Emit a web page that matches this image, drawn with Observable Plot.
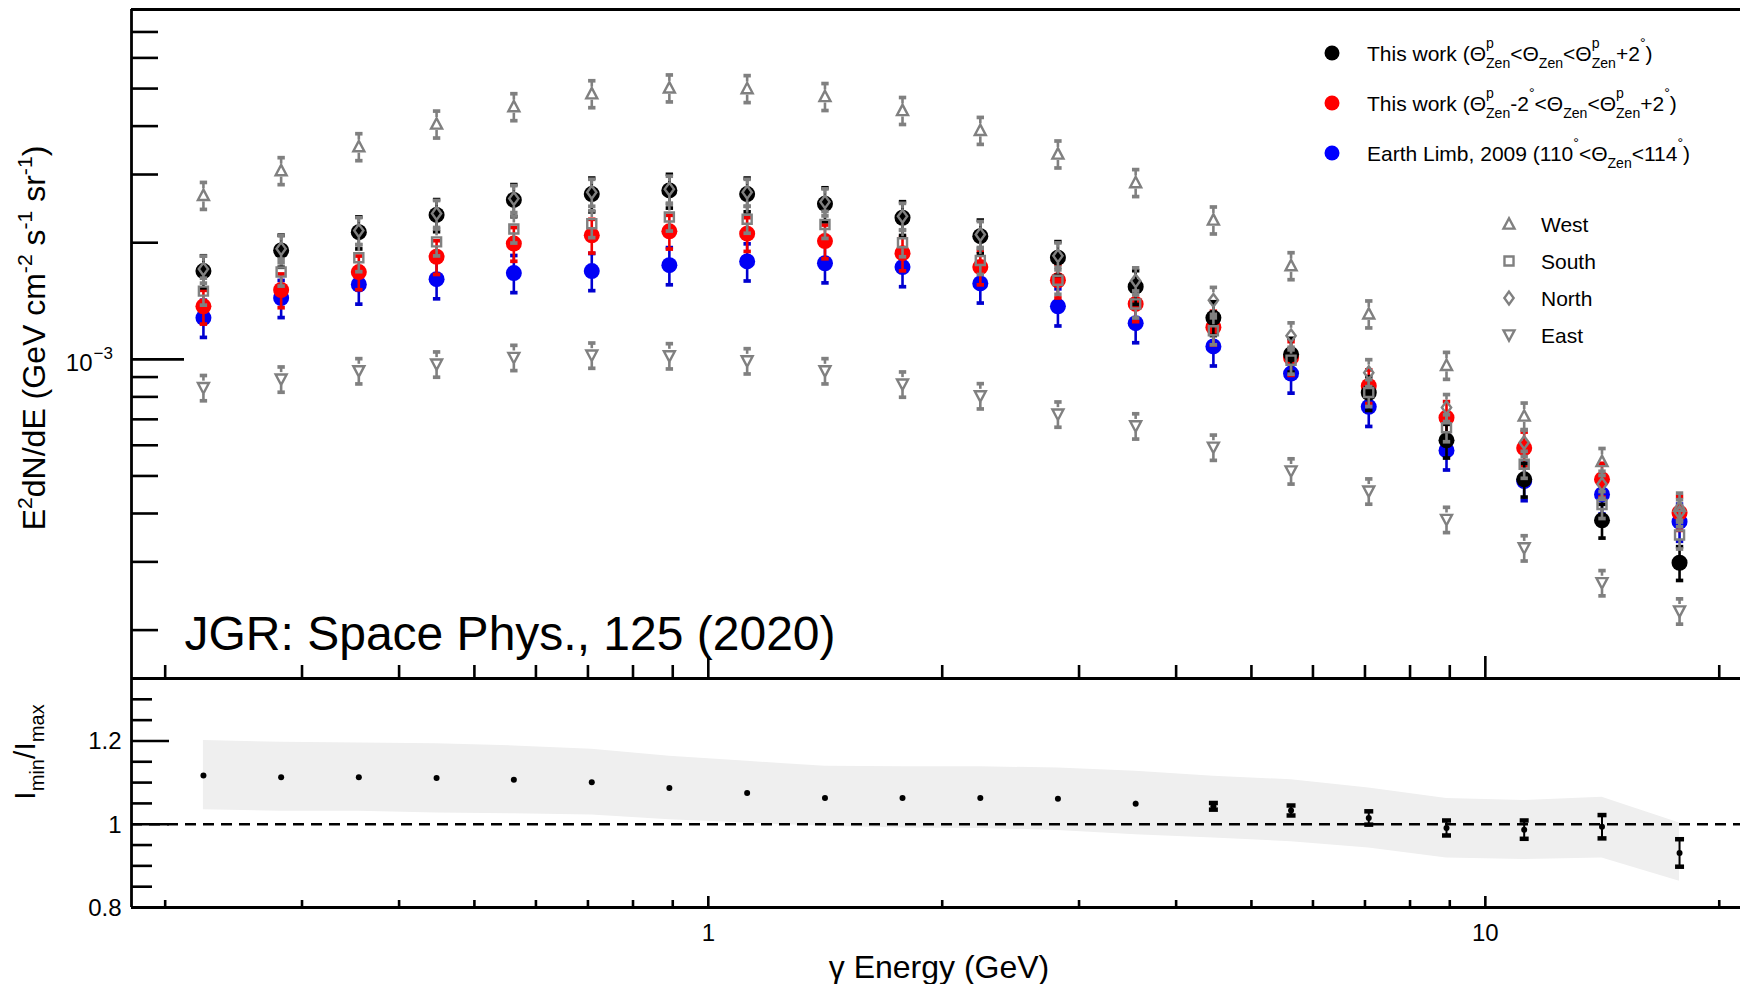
<!DOCTYPE html>
<html><head><meta charset="utf-8">
<script src="https://cdn.jsdelivr.net/npm/d3@7"></script>
<script src="https://cdn.jsdelivr.net/npm/@observablehq/plot@0.6"></script>
<style>
html,body{margin:0;padding:0;background:#fff;overflow:hidden;}
#wrap{position:relative;width:1740px;height:984px;}
#wrap svg{position:absolute;left:0;}
</style></head><body><div id="wrap"></div>
<script>
// ---------------- data ----------------
const energy = [0.224, 0.282, 0.355, 0.447, 0.562, 0.708, 0.891, 1.122, 1.413, 1.778, 2.239, 2.818, 3.548, 4.467, 5.623, 7.079, 8.913, 11.22, 14.13, 17.78];

const thisWorkBlack = [1.69e-3, 1.91e-3, 2.13e-3, 2.36e-3, 2.58e-3, 2.67e-3, 2.73e-3, 2.67e-3, 2.52e-3, 2.32e-3, 2.08e-3, 1.83e-3, 1.54e-3, 1.28e-3, 1.03e-3, 8.2e-4, 6.18e-4, 4.9e-4, 3.84e-4, 2.985e-4];
const thisWorkRed   = [1.37e-3, 1.51e-3, 1.68e-3, 1.84e-3, 1.99e-3, 2.09e-3, 2.14e-3, 2.11e-3, 2.02e-3, 1.88e-3, 1.73e-3, 1.60e-3, 1.39e-3, 1.21e-3, 1.01e-3, 8.54e-4, 7.07e-4, 5.9e-4, 4.9e-4, 4.02e-4];
const earthLimbBlue = [1.28e-3, 1.44e-3, 1.56e-3, 1.61e-3, 1.67e-3, 1.69e-3, 1.75e-3, 1.79e-3, 1.77e-3, 1.73e-3, 1.57e-3, 1.37e-3, 1.24e-3, 1.08e-3, 9.19e-4, 7.54e-4, 5.82e-4, 4.85e-4, 4.48e-4, 3.81e-4];
const west  = [2.65e-3, 3.07e-3, 3.54e-3, 4.05e-3, 4.49e-3, 4.85e-3, 5.02e-3, 5.00e-3, 4.77e-3, 4.39e-3, 3.90e-3, 3.39e-3, 2.86e-3, 2.29e-3, 1.745e-3, 1.31e-3, 9.65e-4, 7.14e-4, 5.45e-4, 4.18e-4];
const south = [1.50e-3, 1.68e-3, 1.83e-3, 2.01e-3, 2.17e-3, 2.24e-3, 2.33e-3, 2.30e-3, 2.23e-3, 2.00e-3, 1.80e-3, 1.60e-3, 1.39e-3, 1.185e-3, 9.95e-4, 8.21e-4, 6.66e-4, 5.36e-4, 4.22e-4, 3.52e-4];
const north = [1.71e-3, 1.93e-3, 2.15e-3, 2.38e-3, 2.60e-3, 2.70e-3, 2.75e-3, 2.70e-3, 2.55e-3, 2.34e-3, 2.10e-3, 1.85e-3, 1.595e-3, 1.42e-3, 1.15e-3, 9.24e-4, 7.51e-4, 6.1e-4, 4.76e-4, 4.02e-4];
const east  = [8.45e-4, 8.89e-4, 9.34e-4, 9.72e-4, 1.011e-3, 1.025e-3, 1.021e-3, 9.91e-4, 9.34e-4, 8.63e-4, 8.05e-4, 7.22e-4, 6.73e-4, 5.93e-4, 5.15e-4, 4.57e-4, 3.86e-4, 3.26e-4, 2.65e-4, 2.24e-4];

// relative errors
const errBlack = [0.095, 0.095, 0.095, 0.095, 0.095, 0.10, 0.10, 0.10, 0.10, 0.10, 0.10, 0.10, 0.10, 0.10, 0.10, 0.10, 0.10, 0.10, 0.10, 0.10];
const errRed   = [0.10, 0.10, 0.10, 0.10, 0.10, 0.10, 0.10, 0.10, 0.10, 0.10, 0.10, 0.10, 0.10, 0.10, 0.10, 0.10, 0.10, 0.10, 0.10, 0.10];
const errBlue  = [0.11, 0.11, 0.11, 0.11, 0.11, 0.11, 0.11, 0.11, 0.11, 0.11, 0.11, 0.11, 0.11, 0.11, 0.11, 0.11, 0.11, 0.11, 0.11, 0.11];
const errWest  = [0.08, 0.08, 0.08, 0.08, 0.08, 0.08, 0.08, 0.08, 0.08, 0.08, 0.08, 0.08, 0.08, 0.08, 0.08, 0.08, 0.08, 0.08, 0.08, 0.08];
const errSouth = [0.08, 0.08, 0.08, 0.08, 0.08, 0.08, 0.08, 0.08, 0.08, 0.08, 0.08, 0.08, 0.08, 0.08, 0.08, 0.08, 0.08, 0.08, 0.08, 0.08];
const errNorth = [0.08, 0.08, 0.08, 0.08, 0.08, 0.08, 0.08, 0.08, 0.08, 0.08, 0.08, 0.08, 0.08, 0.08, 0.08, 0.08, 0.08, 0.08, 0.08, 0.08];
const errEast  = [0.075, 0.075, 0.075, 0.075, 0.075, 0.075, 0.075, 0.075, 0.075, 0.075, 0.075, 0.075, 0.075, 0.075, 0.075, 0.075, 0.075, 0.075, 0.075, 0.075];

// lower panel: Imin/Imax
const ratio    = [1.117, 1.113, 1.113, 1.111, 1.107, 1.101, 1.087, 1.075, 1.063, 1.063, 1.063, 1.061, 1.049, 1.043, 1.033, 1.015, 0.991, 0.987, 0.994, 0.931];
const ratioErr = [0.003, 0.003, 0.003, 0.003, 0.003, 0.003, 0.003, 0.003, 0.003, 0.003, 0.003, 0.004, 0.006, 0.008, 0.012, 0.016, 0.018, 0.022, 0.028, 0.033];
const bandHi   = [1.201, 1.197, 1.195, 1.193, 1.188, 1.180, 1.163, 1.151, 1.139, 1.138, 1.138, 1.135, 1.127, 1.115, 1.107, 1.087, 1.062, 1.057, 1.065, 1.003];
const bandLo   = [1.035, 1.031, 1.031, 1.027, 1.025, 1.022, 1.011, 1.003, 0.995, 0.991, 0.990, 0.985, 0.975, 0.967, 0.958, 0.943, 0.919, 0.915, 0.919, 0.863];

// axes
const xDomain = [0.181, 21.3];
const yTopDomain = [1.5e-4, 8e-3];
const yBotDomain = [0.8, 1.35];
const xMajorTicks = [1, 10];
const xTickLabels = ["1", "10"];
const xMinorTicks = [0.2, 0.3, 0.4, 0.5, 0.6, 0.7, 0.8, 0.9, 2, 3, 4, 5, 6, 7, 8, 9, 20];
const yTopMajorTicks = [1e-3];
const yTopMinorTicks = [2e-4, 3e-4, 4e-4, 5e-4, 6e-4, 7e-4, 8e-4, 9e-4, 2e-3, 3e-3, 4e-3, 5e-3, 6e-3, 7e-3];
const yBotMajorTicks = [0.8, 1, 1.2];
const yBotTickLabels = ["0.8", "1", "1.2"];
const yBotMinorTicks = [0.85, 0.9, 0.95, 1.05, 1.1, 1.15, 1.25, 1.3];

// texts
const legendMain = [
  "This work (Θ_{Zen}^{p}<Θ_{Zen}<Θ_{Zen}^{p}+2^{°})",
  "This work (Θ_{Zen}^{p}-2^{°}<Θ_{Zen}<Θ_{Zen}^{p}+2^{°})",
  "Earth Limb, 2009 (110^{°}<Θ_{Zen}<114^{°})"
];
const legendMainColors = ["#000000", "#ff0000", "#0000ff"];
const legendDir = ["West", "South", "North", "East"];
const yTopLabel = "E^{2}dN/dE (GeV cm^{-2} s^{-1} sr^{-1})";
const yBotLabel = "I_{min}/I_{max}";
const xLabel = "γ Energy (GeV)";
const note = "JGR: Space Phys., 125 (2020)";

// ---------------- styling ----------------
const FONT = "'Liberation Sans', Arial, Helvetica, sans-serif";
const GRAY = "#808080";
const W = 1740;
const TOP = {h: 680, mt: 9, mb: 2};
const BOT = {top: 676, h: 308, mt: 2, mb: 77};
const ML = 131, MR = 0;
const frameW = W - ML - MR;
const topFrameH = TOP.h - TOP.mt - TOP.mb;
const botFrameH = BOT.h - BOT.mt - BOT.mb;
const LW = 2.6;

// symbols
const symTriUp = {draw(c, s) { const r = Math.sqrt(s / Math.PI); c.moveTo(0, -r); c.lineTo(r * 0.95, r * 0.8); c.lineTo(-r * 0.95, r * 0.8); c.closePath(); }};
const symTriDown = {draw(c, s) { const r = Math.sqrt(s / Math.PI); c.moveTo(0, r); c.lineTo(r * 0.95, -r * 0.8); c.lineTo(-r * 0.95, -r * 0.8); c.closePath(); }};
const symSquare = {draw(c, s) { const r = Math.sqrt(s / Math.PI); c.rect(-r * 0.78, -r * 0.78, r * 1.56, r * 1.56); }};
const symDiamond = {draw(c, s) { const r = Math.sqrt(s / Math.PI); c.moveTo(0, -r * 1.1); c.lineTo(r * 0.8, 0); c.lineTo(0, r * 1.1); c.lineTo(-r * 0.8, 0); c.closePath(); }};
const symCap = {draw(c, s) { const r = Math.sqrt(s / Math.PI); c.rect(-r, -r * 0.5, 2 * r, r); }};

function seriesMarks(vals, errs, color, barColor, symbol, r, gap, open) {
  const rows = energy.map((e, i) => ({e, v: vals[i], lo: vals[i] * (1 - errs[i]), hi: vals[i] * (1 + errs[i])}));
  return [
    Plot.ruleX(rows, {x: "e", y1: "hi", y2: "v", stroke: barColor, strokeWidth: LW, insetBottom: gap}),
    Plot.ruleX(rows, {x: "e", y1: "v", y2: "lo", stroke: barColor, strokeWidth: LW, insetTop: gap}),
    Plot.dot(rows, {x: "e", y: "hi", symbol: symCap, r: 3.7, fill: barColor, stroke: null}),
    Plot.dot(rows, {x: "e", y: "lo", symbol: symCap, r: 3.7, fill: barColor, stroke: null}),
    open
      ? Plot.dot(rows, {x: "e", y: "v", symbol, r, fill: "none", stroke: color, strokeWidth: 2.4})
      : Plot.dot(rows, {x: "e", y: "v", symbol, r, fill: color, stroke: null})
  ];
}

const plotTop = Plot.plot({
  width: W, height: TOP.h,
  marginTop: TOP.mt, marginBottom: TOP.mb, marginLeft: ML, marginRight: MR,
  x: {type: "log", domain: xDomain, axis: null},
  y: {type: "log", domain: yTopDomain, axis: null},
  style: {background: "transparent", fontFamily: FONT, overflow: "visible", color: "black"},
  marks: [
    // frame
    Plot.ruleY([yTopDomain[1], yTopDomain[0]], {stroke: "black", strokeWidth: 2.8}),
    Plot.ruleX([xDomain[0]], {stroke: "black", strokeWidth: 2.8}),
    // y ticks (inward)
    Plot.ruleY(yTopMinorTicks, {stroke: "black", strokeWidth: LW, insetRight: frameW - 27}),
    Plot.ruleY(yTopMajorTicks, {stroke: "black", strokeWidth: LW, insetRight: frameW - 53}),
    // x ticks (inward, from bottom)
    Plot.ruleX(xMinorTicks, {stroke: "black", strokeWidth: LW, insetTop: topFrameH - 13}),
    Plot.ruleX(xMajorTicks, {stroke: "black", strokeWidth: LW, insetTop: topFrameH - 22}),
    // y tick label 10^-3
    Plot.text(yTopMajorTicks, {y: d => d, text: () => "10", frameAnchor: "left", textAnchor: "end", lineAnchor: "bottom", dx: -39, dy: 11.5, fontSize: 24, fill: "black"}),
    Plot.text(yTopMajorTicks, {y: d => d, text: () => "−3", frameAnchor: "left", textAnchor: "start", lineAnchor: "bottom", dx: -38, dy: -0.5, fontSize: 17, fill: "black"}),
    // annotation
    Plot.text([note], {text: d => d, frameAnchor: "bottom-left", textAnchor: "start", lineAnchor: "bottom", dx: 53, dy: -29, fontSize: 48, fill: "black"}),
    // data
    ...seriesMarks(earthLimbBlue, errBlue, "#0000f5", "#0000d0", "circle", 8, 0, false),
    ...seriesMarks(thisWorkRed, errRed, "#ff0000", "#f00000", "circle", 8, 0, false),
    ...seriesMarks(thisWorkBlack, errBlack, "#000000", "#000000", "circle", 8, 0, false),
    ...seriesMarks(south, errSouth, GRAY, GRAY, symSquare, 5.8, 6, true),
    ...seriesMarks(north, errNorth, GRAY, GRAY, symDiamond, 5.8, 7.5, true),
    ...seriesMarks(west, errWest, GRAY, GRAY, symTriUp, 5.8, 6.5, true),
    ...seriesMarks(east, errEast, GRAY, GRAY, symTriDown, 5.8, 6.5, true)
  ]
});

const botRows = energy.map((e, i) => ({e, r: ratio[i], lo: ratio[i] - ratioErr[i], hi: ratio[i] + ratioErr[i], err: ratioErr[i], bLo: bandLo[i], bHi: bandHi[i]}));

const plotBot = Plot.plot({
  width: W, height: BOT.h,
  marginTop: BOT.mt, marginBottom: BOT.mb, marginLeft: ML, marginRight: MR,
  x: {type: "log", domain: xDomain, axis: null},
  y: {type: "linear", domain: yBotDomain, axis: null},
  style: {background: "transparent", fontFamily: FONT, overflow: "visible", color: "black"},
  marks: [
    Plot.areaY(botRows, {x: "e", y1: "bLo", y2: "bHi", fill: "#efefef", curve: "linear"}),
    Plot.ruleY([1], {stroke: "black", strokeWidth: 2.4, strokeDasharray: "11,7"}),
    // frame
    Plot.ruleY([yBotDomain[1], yBotDomain[0]], {stroke: "black", strokeWidth: 2.8}),
    Plot.ruleX([xDomain[0]], {stroke: "black", strokeWidth: 2.8}),
    // ticks
    Plot.ruleY(yBotMinorTicks, {stroke: "black", strokeWidth: LW, insetRight: frameW - 21}),
    Plot.ruleY(yBotMajorTicks, {stroke: "black", strokeWidth: LW, insetRight: frameW - 38}),
    Plot.ruleX(xMinorTicks, {stroke: "black", strokeWidth: LW, insetTop: botFrameH - 7}),
    Plot.ruleX(xMajorTicks, {stroke: "black", strokeWidth: LW, insetTop: botFrameH - 11}),
    // tick labels
    Plot.text(yBotMajorTicks, {y: d => d, text: (d, i) => yBotTickLabels[i], frameAnchor: "left", textAnchor: "end", lineAnchor: "bottom", dx: -10, dy: 8.5, fontSize: 24, fill: "black"}),
    Plot.text(xMajorTicks, {x: d => d, text: (d, i) => xTickLabels[i], frameAnchor: "bottom", textAnchor: "middle", lineAnchor: "bottom", dy: 33, fontSize: 24, fill: "black"}),
    Plot.text([xLabel], {text: d => d, frameAnchor: "bottom", textAnchor: "middle", lineAnchor: "bottom", dx: 3, dy: 70, fontSize: 32, fill: "black"}),
    // data
    Plot.ruleX(botRows, {x: "e", y1: "hi", y2: "lo", stroke: "black", strokeWidth: 2}),
    Plot.dot(botRows.filter(d => d.err >= 0.008), {x: "e", y: "hi", symbol: symCap, r: 4.5, fill: "black", stroke: null}),
    Plot.dot(botRows.filter(d => d.err >= 0.008), {x: "e", y: "lo", symbol: symCap, r: 4.5, fill: "black", stroke: null}),
    Plot.dot(botRows, {x: "e", y: "r", r: 3, fill: "black", stroke: null})
  ]
});

const wrap = document.getElementById("wrap");
plotTop.style.top = "0px";
plotBot.style.top = BOT.top + "px";
wrap.appendChild(plotTop);
wrap.appendChild(plotBot);

// ---------------- rich text helper (ROOT-like ^{} and _{} markup) ----------------
function parseRich(str) {
  const parts = [];
  let buf = "", i = 0, lastWasScript = false;
  while (i < str.length) {
    const ch = str[i];
    if ((ch === "^" || ch === "_") && str[i + 1] === "{") {
      if (buf) { parts.push({t: buf}); buf = ""; }
      const j = str.indexOf("}", i);
      parts.push({t: str.slice(i + 2, j), kind: ch === "^" ? "sup" : "sub", stack: lastWasScript});
      lastWasScript = true;
      i = j + 1;
    } else {
      buf += ch; lastWasScript = false; i++;
    }
  }
  if (buf) parts.push({t: buf});
  return parts;
}
function richText(sel, str, o) {
  const parts = parseRich(str);
  let prevShift = 0, lastW = 0, extra = 0;
  for (const p of parts) {
    const size = p.kind ? o.size * o.scale : o.size;
    const shift = p.kind === "sup" ? o.sup : p.kind === "sub" ? o.sub : 0;
    const ts = sel.append("tspan").attr("font-size", size).text(p.t);
    if (shift - prevShift) ts.attr("dy", shift - prevShift);
    prevShift = shift;
    let dx = 0;
    if (p.stack) dx = -lastW; else { dx = extra; extra = 0; }
    if (dx) ts.attr("dx", dx);
    const w = ts.node().getComputedTextLength();
    if (p.stack) extra = Math.max(0, lastW - w);
    lastW = w;
  }
  return sel;
}

const svgTop = d3.select(plotTop);
const svgBot = d3.select(plotBot);

// y label (top)
richText(svgTop.append("text").attr("transform", "translate(45,338) rotate(-90)")
  .attr("text-anchor", "middle").attr("font-family", FONT).attr("fill", "black"),
  yTopLabel, {size: 32, scale: 0.66, sup: -13, sub: 8});

// y label (bottom)
richText(svgBot.append("text").attr("transform", `translate(35,${752 - BOT.top}) rotate(-90)`)
  .attr("text-anchor", "middle").attr("font-family", FONT).attr("fill", "black"),
  yBotLabel, {size: 30, scale: 0.67, sup: -12, sub: 9});

// legend 1
const lg1 = svgTop.append("g").attr("font-family", FONT).attr("text-anchor", "start");
legendMain.forEach((lab, i) => {
  const cy = 53 + i * 50;
  lg1.append("circle").attr("cx", 1332).attr("cy", cy).attr("r", 7.5).attr("fill", legendMainColors[i]);
  richText(lg1.append("text").attr("x", 1367).attr("y", cy + 8).attr("text-anchor", "start").attr("fill", "black"), lab, {size: 21, scale: 0.67, sup: -13, sub: 7});
});

// legend 2
const lg2 = svgTop.append("g").attr("font-family", FONT).attr("text-anchor", "start");
const dirSyms = [symTriUp, symSquare, symDiamond, symTriDown];
legendDir.forEach((lab, i) => {
  const cy = 224 + i * 37;
  lg2.append("path").attr("transform", `translate(1509,${cy})`)
    .attr("d", d3.symbol().type(dirSyms[i]).size(Math.PI * 5.8 * 5.8)())
    .attr("fill", "none").attr("stroke", GRAY).attr("stroke-width", 2.4);
  lg2.append("text").attr("x", 1541).attr("y", cy + 8).attr("text-anchor", "start").attr("font-size", 21).attr("fill", "black").text(lab);
});
</script></body></html>
